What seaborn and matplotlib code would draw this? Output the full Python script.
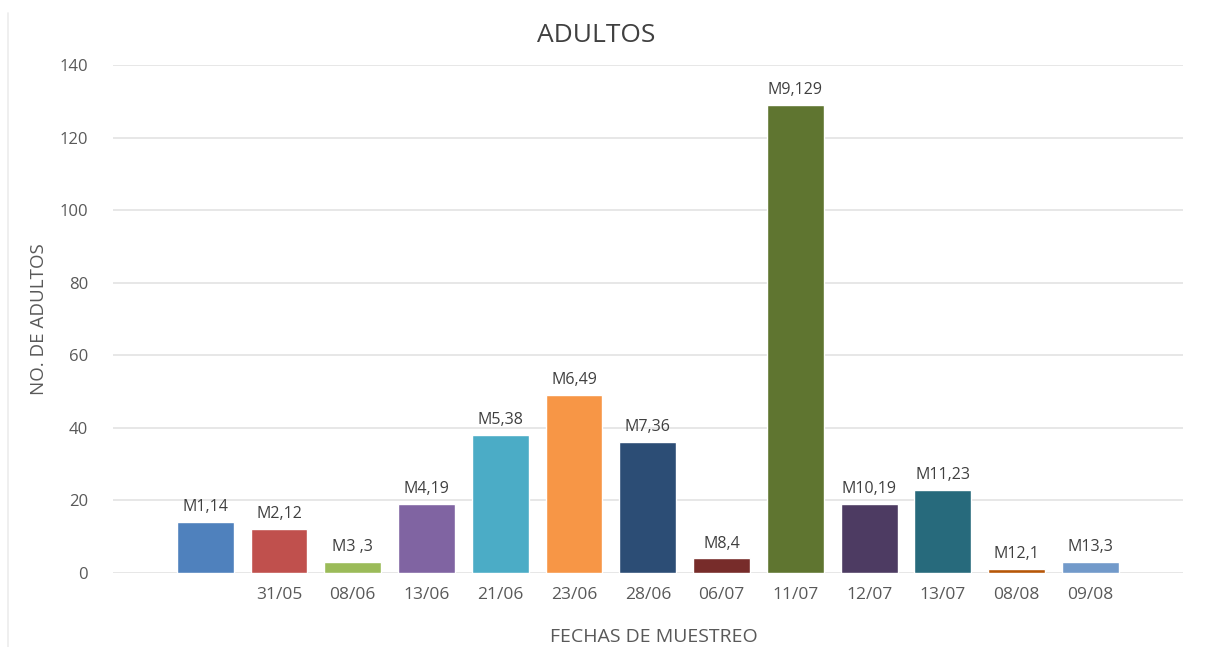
import matplotlib

matplotlib.use('Agg')
import matplotlib.pyplot as plt
import pandas as pd
import seaborn as sns

muestras = ['M1', 'M2', 'M3', 'M4', 'M5', 'M6', 'M7', 'M8', 'M9', 'M10', 'M11', 'M12', 'M13']
fechas = ['', '31/05', '08/06', '13/06', '21/06', '23/06', '28/06', '06/07', '11/07',
          '12/07', '13/07', '08/08', '09/08']
adultos = [14, 12, 3, 19, 38, 49, 36, 4, 129, 19, 23, 1, 3]
etiquetas = ['M1,14', 'M2,12', 'M3 ,3', 'M4,19', 'M5,38', 'M6,49', 'M7,36', 'M8,4',
             'M9,129', 'M10,19', 'M11,23', 'M12,1', 'M13,3']
colores = ['#4F81BD', '#C0504D', '#9BBB59', '#8064A2', '#4BACC6', '#F79646', '#2C4D75',
           '#772C2A', '#5F7530', '#4D3B62', '#276A7C', '#B65708', '#729ACA']

df = pd.DataFrame({'Muestra': muestras, 'Adultos': adultos})

sns.set_style('white')
plt.rcParams['font.family'] = ['Open Sans', 'DejaVu Sans']
gris = '#595959'

fig = plt.figure(figsize=(12.1, 6.47), dpi=100)
ax = fig.add_axes([0.0934, 0.1144, 0.8846, 0.7851])
sns.barplot(data=df, x='Muestra', y='Adultos', hue='Muestra', palette=colores,
            legend=False, width=0.77, saturation=1, ax=ax)

for cont, lab in zip(ax.containers, etiquetas):
    ax.bar_label(cont, labels=[lab], padding=5, fontsize=11.5, color='#404040')

ax.set_xlim(-1.25, 13.26)
ax.set_ylim(0, 140)
ax.set_yticks(range(0, 141, 20))
ax.yaxis.grid(True, color='#e3e3e3', linewidth=1.2)
ax.set_axisbelow(True)
for s in ax.spines.values():
    s.set_visible(False)
ax.set_xticks(range(len(fechas)))
ax.set_xticklabels(fechas)
ax.tick_params(axis='both', length=0, colors=gris)
ax.tick_params(axis='x', pad=10, labelsize=12.5)
ax.tick_params(axis='y', pad=18, labelsize=12)
ax.set_xlabel('')
ax.set_ylabel('NO. DE ADULTOS', fontsize=13.5, color=gris, labelpad=8)

fig.text(0.4926, 0.945, 'ADULTOS', ha='center', va='center', fontsize=19, color='#404040')
fig.text(0.54, 0.016, 'FECHAS DE MUESTREO', ha='center', va='center', fontsize=14,
         color=gris)
fig.add_artist(plt.Line2D([0.007, 0.007], [0.0, 0.98], color='#ececec', linewidth=1.2))

fig.savefig('out.png', dpi=100, facecolor='white')
